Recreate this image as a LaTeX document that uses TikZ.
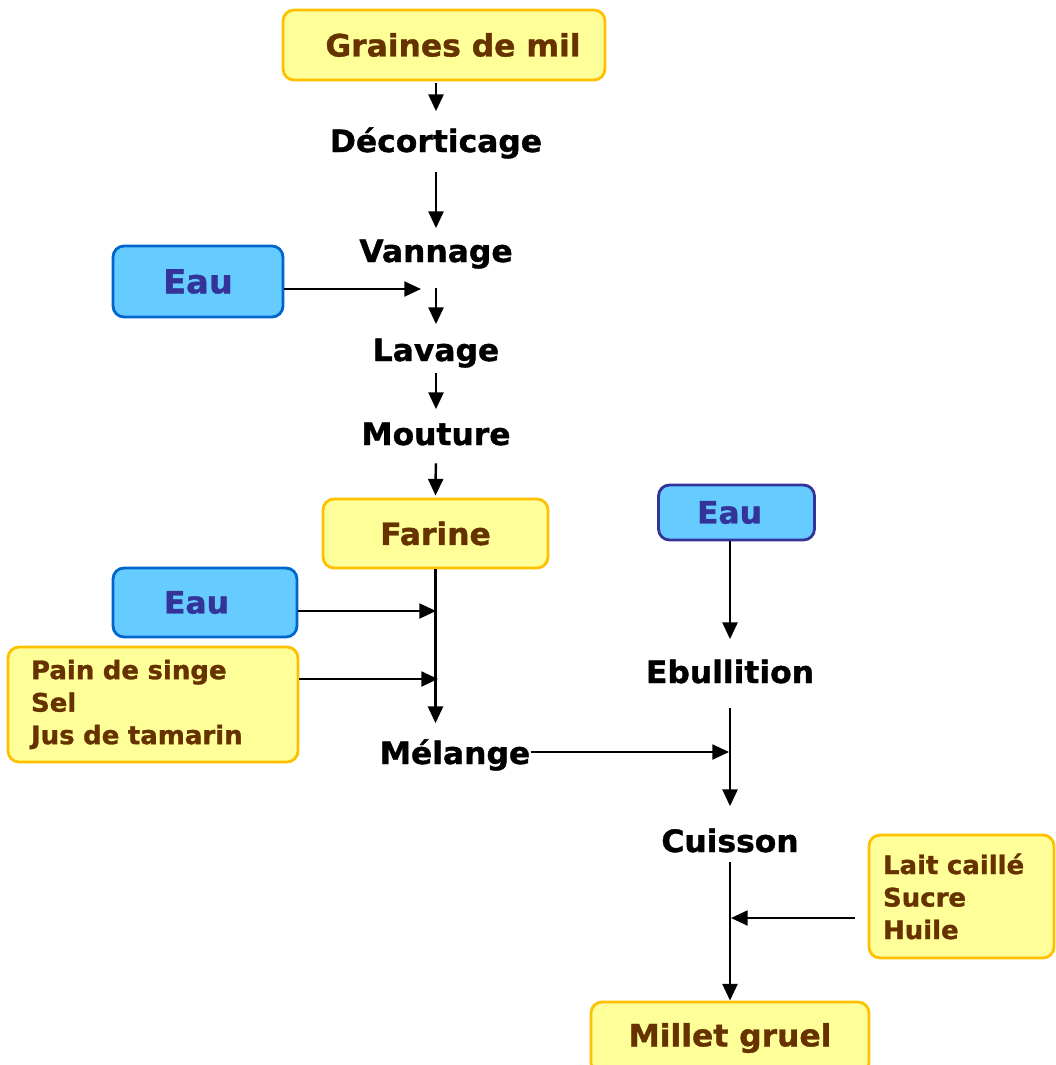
\documentclass[tikz,border=0pt]{standalone}
\usepackage{fontspec}
\setmainfont{DejaVu Sans}[FakeStretch=1.02, BoldFeatures={FakeBold=1.2}]
\usepackage{tikz}
\usetikzlibrary{arrows.meta}

\definecolor{jaune}{HTML}{FFFF99}
\definecolor{orjaune}{HTML}{FFC000}
\definecolor{brun}{HTML}{663300}
\definecolor{bleu}{HTML}{66CCFF}
\definecolor{bleubord}{HTML}{0066CC}
\definecolor{indigo}{HTML}{333399}

\begin{document}
\begin{tikzpicture}[
    x=0.02cm, y=-0.02cm,
    ybox/.style={draw=orjaune, fill=jaune, line width=1.6pt, rounded corners=0.22cm, text=brun, font=\fontsize{17.5}{21}\selectfont\bfseries},
    bbox/.style={draw=bleubord, fill=bleu, line width=1.6pt, rounded corners=0.22cm, text=indigo, font=\fontsize{17.5}{21}\selectfont\bfseries},
    lbox/.style={ybox, align=left, inner xsep=0.46cm, font=\fontsize{14.5}{18.5}\selectfont\bfseries},
    lbl/.style={inner sep=0pt, anchor=base, text height=0.44cm, text depth=0pt, font=\fontsize{17.5}{21}\selectfont\bfseries},
    arr/.style={-{Triangle[length=9.5pt,width=8.5pt]}, line width=1.4pt}
]
    \useasboundingbox (0,0) rectangle (1055,1065);

    % colonne du mil
    \node[ybox, minimum width=6.44cm, minimum height=1.4cm] (grain) at (444,45) {\hspace*{0.36cm}Graines de mil};
    \node[lbl] (deco) at (436,152) {Décorticage};
    \node[lbl] (vann) at (436,262) {Vannage};
    \node[bbox, minimum width=3.4cm, minimum height=1.42cm, font=\fontsize{18.8}{22}\selectfont\bfseries] (eau1) at (198,281.5) {Eau};
    \node[lbl] (lava) at (436,361) {Lavage};
    \node[lbl] (mout) at (436,445) {Mouture};
    \node[ybox, minimum width=4.5cm, minimum height=1.38cm] (farine) at (435.5,533.5) {Farine};
    \node[bbox, minimum width=3.68cm, minimum height=1.38cm] (eau2) at (205,602.5) {Eau\hspace*{0.34cm}};
    \node[lbox, text width=4.88cm, minimum height=2.3cm] (pain) at (153,704.5) {Pain de singe\\Sel\\Jus de tamarin};
    \node[lbl] (melange) at (455,764) {Mélange};

    % colonne de cuisson
    \node[bbox, draw=indigo, minimum width=3.12cm, minimum height=1.1cm] (eau3) at (736.5,512.5) {Eau\hspace*{0.28cm}};
    \node[lbl] (ebul) at (730,683) {Ebullition};
    \node[lbl] (cuis) at (730,852) {Cuisson};
    \node[lbox, inner xsep=0.28cm, text width=3.14cm, minimum height=2.46cm] (lait) at (961.5,896.5) {Lait caillé\\Sucre\\Huile};
    \node[ybox, minimum width=5.56cm, minimum height=1.44cm] (millet) at (730,1038) {Millet gruel};

    % points d'arrivee
    \coordinate (j1) at (421,289);
    \coordinate (j2) at (436,611);
    \coordinate (j3) at (438,679);
    \coordinate (j4) at (729,752);
    \coordinate (j5) at (731,918);

    \draw[arr, shorten <=0.04cm, shorten >=0.37cm] (grain.south -| deco.north) -- (deco.north);
    \draw[arr, shorten <=0.4cm, shorten >=0.23cm] (deco.south) -- (vann.north);
    \draw[arr, shorten <=0.52cm, shorten >=0.29cm] (vann.south) -- (lava.north);
    \draw[arr, shorten <=0.24cm, shorten >=0.27cm] (lava.south) -- (mout.north);
    \draw[arr, shorten <=0.36cm, shorten >=0.04cm] (mout.south) -- (farine.north);
    \draw[arr] (eau1.east |- j1) -- (j1);
    \draw[arr, shorten >=0.37cm] (farine.south) -- (farine.south |- melange.north);
    \draw[arr] (eau2.east |- j2) -- (j2);
    \draw[arr] (pain.east |- j3) -- (j3);
    \draw[arr] (melange.east |- j4) -- (j4);
    \draw[arr, shorten >=0.43cm] (eau3.south -| ebul.north) -- (ebul.north);
    \draw[arr, shorten <=0.5cm, shorten >=0.47cm] (ebul.south) -- (cuis.north);
    \draw[arr, shorten <=0.2cm] (cuis.south) -- (millet.north);
    \draw[arr, shorten <=0.26cm] (lait.west |- j5) -- (j5);
\end{tikzpicture}
\end{document}
